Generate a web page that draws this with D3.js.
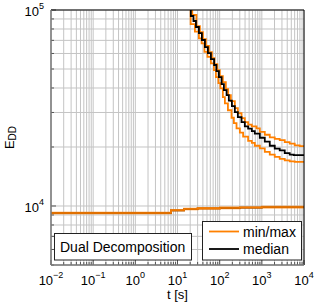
<!DOCTYPE html>
<html>
<head>
<meta charset="utf-8">
<script src="https://cdn.jsdelivr.net/npm/d3@7"></script>
<style>
  body { margin: 0; background: #fff; }
  text { font-family: "Liberation Sans", Arial, sans-serif; fill: #000; }
</style>
</head>
<body>
<script>
// upper curves (primal), time in s
const tMax = [20, 22.4, 28.1, 34, 40.1, 47.2, 55.6, 65.5, 75, 88.3, 101, 119, 140, 159, 184, 229, 270, 330, 395, 473, 578, 747, 895, 1175, 1542, 2024, 2655, 3490, 4580, 6020, 7900, 10000];
const upperMax = [120000, 94300, 82800, 77200, 71100, 65500, 61000, 56800, 53000, 49400, 46000, 42900, 39500, 36800, 34300, 31600, 29800, 28100, 26800, 26000, 25500, 24900, 23900, 23100, 22400, 22000, 21700, 21200, 20800, 20400, 20200, 20200];

const tMed = [20, 20.7, 23.9, 27.4, 32.2, 37.9, 44.7, 52.6, 61.9, 73.8, 83.6, 95.9, 111, 126, 146, 165, 195, 229, 270, 330, 395, 473, 578, 681, 895, 1175, 1542, 2024, 2655, 3490, 4580, 5700, 10000];
const upperMed = [120000, 93200, 87900, 81900, 76300, 70300, 64700, 60300, 56200, 52400, 48800, 45500, 41900, 39000, 36800, 34500, 32300, 30100, 28400, 26800, 25500, 24800, 24100, 23400, 22300, 21300, 20300, 19600, 19200, 18600, 18300, 18200, 18200];

const tMin = [20, 20.5, 25.9, 32.2, 37.3, 43.5, 51.3, 61.9, 73, 81.4, 93.3, 104, 119, 133, 157, 191, 217, 251, 301, 360, 473, 578, 681, 895, 1175, 1542, 2024, 2655, 3490, 4580, 6020, 10000];
const upperMin = [120000, 84800, 77500, 71700, 67600, 61200, 57700, 53400, 49400, 45500, 42400, 39800, 35900, 33400, 30800, 28200, 26500, 24900, 23700, 22600, 21500, 21000, 20300, 19700, 18900, 18300, 17800, 17400, 17100, 16900, 16800, 16800];

// lower curves (dual bound)
const tLower = [0.01, 7, 14.3, 30, 101, 300, 1000, 10000];
const lowerMin = [9170, 9460, 9610, 9680, 9730, 9780, 9820, 9850];
const lowerMed = [9210, 9505, 9650, 9720, 9770, 9820, 9860, 9890];
const lowerMax = [9260, 9560, 9700, 9770, 9830, 9880, 9920, 9950];

const xTicks = [-2, -1, 0, 1, 2, 3, 4];
const yTicks = [4, 5];
const legendItems = [{label: "min/max", color: "#ff8000"}, {label: "median", color: "#000"}];
const boxText = "Dual Decomposition";

const W = 316, H = 305;
const mLeft = 51, mRight = 304, mTop = 10, mBottom = 265;
const orange = "#ff8000";

const svg = d3.select("body").append("svg")
    .attr("width", W)
    .attr("height", H);

const x = d3.scaleLog().domain([1e-2, 1e4]).range([mLeft, mRight]);
const y = d3.scaleLog().domain([5000, 1e5]).range([mBottom, mTop]);

// grid
const grid = svg.append("g").attr("stroke", "#c4c4c4").attr("stroke-width", 1);
x.ticks().forEach(function (t) {
    grid.append("line").attr("x1", x(t)).attr("x2", x(t)).attr("y1", mTop).attr("y2", mBottom);
});
y.ticks().forEach(function (t) {
    grid.append("line").attr("x1", mLeft).attr("x2", mRight).attr("y1", y(t)).attr("y2", y(t));
});

// inner ticks
const tk = svg.append("g").attr("stroke", "#555").attr("stroke-width", 1);
x.ticks().forEach(function (t) {
    const major = Math.abs(Math.log10(t) - Math.round(Math.log10(t))) < 1e-6;
    tk.append("line").attr("x1", x(t)).attr("x2", x(t)).attr("y1", mBottom).attr("y2", mBottom - (major ? 5 : 3));
});
y.ticks().forEach(function (t) {
    const major = Math.abs(Math.log10(t) - Math.round(Math.log10(t))) < 1e-6;
    tk.append("line").attr("x1", mLeft).attr("x2", mLeft + (major ? 5 : 3)).attr("y1", y(t)).attr("y2", y(t));
});

svg.append("clipPath").attr("id", "clip")
    .append("rect").attr("x", mLeft).attr("y", mTop).attr("width", mRight - mLeft).attr("height", mBottom - mTop);

const plot = svg.append("g").attr("clip-path", "url(#clip)");

function drawLine(ts, vals, color, opacity) {
    const line = d3.line()
        .x(function (d, i) { return x(ts[i]); })
        .y(function (d) { return y(d); })
        .curve(d3.curveStepAfter);
    plot.append("path")
        .attr("d", line(vals))
        .attr("fill", "none")
        .attr("stroke", color)
        .attr("stroke-opacity", opacity || 1)
        .attr("stroke-width", 1.8);
}

drawLine(tMin, upperMin, orange);
drawLine(tMax, upperMax, orange);
drawLine(tMed, upperMed, "#000");
drawLine(tLower, lowerMed, "#000");
drawLine(tLower, lowerMin, orange, 0.8);
drawLine(tLower, lowerMax, orange, 0.8);

// frame
svg.append("line").attr("x1", mLeft).attr("x2", mRight).attr("y1", mTop).attr("y2", mTop).attr("stroke", "#000");
svg.append("line").attr("x1", mRight).attr("x2", mRight).attr("y1", mTop).attr("y2", mBottom).attr("stroke", "#000");
svg.append("line").attr("x1", mLeft).attr("x2", mLeft).attr("y1", mTop).attr("y2", mBottom).attr("stroke", "#777").attr("stroke-width", 1.5);
svg.append("line").attr("x1", mLeft).attr("x2", mRight).attr("y1", mBottom).attr("y2", mBottom).attr("stroke", "#777").attr("stroke-width", 1.5);

// tick labels
xTicks.forEach(function (e) {
    const t = svg.append("text").attr("x", x(Math.pow(10, e))).attr("y", 285)
        .attr("text-anchor", "middle").attr("font-size", 13);
    t.append("tspan").text("10");
    t.append("tspan").attr("dy", -7).attr("font-size", 9).text(String(e).replace("-", "\u2212"));
});
yTicks.forEach(function (e) {
    const t = svg.append("text").attr("x", 44).attr("y", y(Math.pow(10, e)) + 6)
        .attr("text-anchor", "end").attr("font-size", 13);
    t.append("tspan").text("10");
    t.append("tspan").attr("dy", -7).attr("font-size", 9).text(e);
});

// axis titles
svg.append("text").attr("x", (mLeft + mRight) / 2).attr("y", 299)
    .attr("text-anchor", "middle").attr("font-size", 13).text("t [s]");
const yl = svg.append("text")
    .attr("transform", "translate(13.5," + ((mTop + mBottom) / 2) + ") rotate(-90)")
    .attr("text-anchor", "middle").attr("font-size", 13);
yl.append("tspan").text("E");
yl.append("tspan").attr("dy", 2.5).attr("font-size", 10).text("DD");

// text box
svg.append("rect").attr("x", 54.5).attr("y", 233.5).attr("width", 137).attr("height", 26.5)
    .attr("fill", "#fff").attr("stroke", "#222");
svg.append("text").attr("x", 60).attr("y", 251.5).attr("font-size", 14).text(boxText);

// legend
svg.append("rect").attr("x", 202.5).attr("y", 221.5).attr("width", 99).attr("height", 38.5)
    .attr("fill", "#fff").attr("stroke", "#222");
legendItems.forEach(function (d, i) {
    const ly = 231.5 + i * 17.5;
    svg.append("line").attr("x1", 209).attr("x2", 239).attr("y1", ly).attr("y2", ly)
        .attr("stroke", d.color).attr("stroke-width", 1.8);
    svg.append("text").attr("x", 243).attr("y", ly + 5).attr("font-size", 14).text(d.label);
});
</script>
</body>
</html>
